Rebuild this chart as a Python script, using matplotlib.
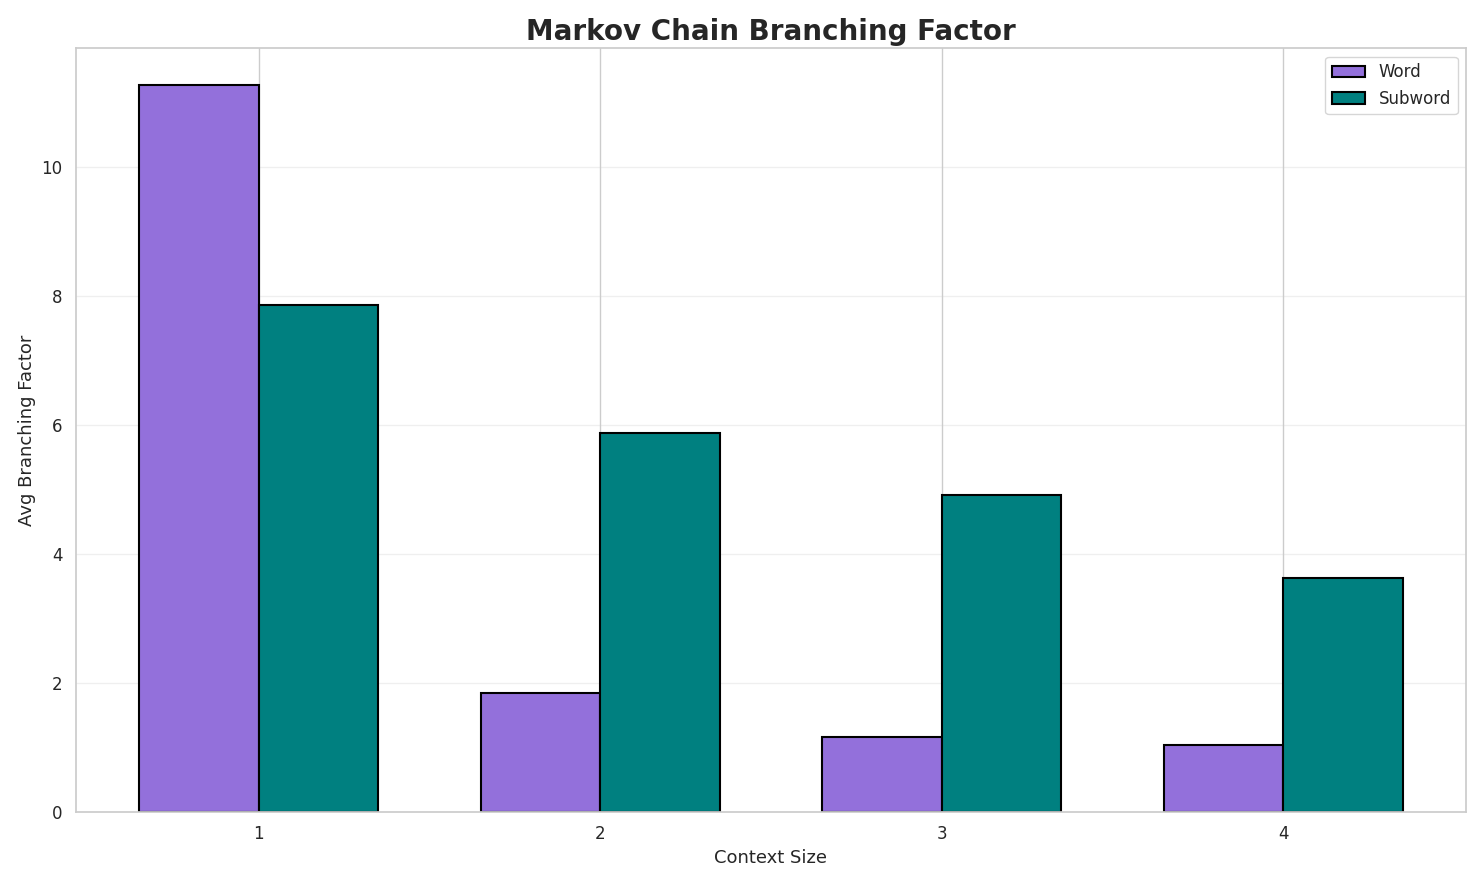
import matplotlib
matplotlib.use("Agg")
import matplotlib.pyplot as plt
import seaborn as sns
import numpy as np

sns.set_theme(style="whitegrid")

contexts = [1, 2, 3, 4]
word = [11.27, 1.84, 1.16, 1.04]
subword = [7.85, 5.87, 4.92, 3.63]

fig, ax = plt.subplots(figsize=(14.84, 8.85), dpi=100)
x = np.arange(len(contexts))
w = 0.35
ax.bar(x - w/2, word, w, label="Word", color="#9370DB", edgecolor="black", linewidth=1.5)
ax.bar(x + w/2, subword, w, label="Subword", color="#008080", edgecolor="black", linewidth=1.5)
ax.set_xticks(x)
ax.set_xticklabels([str(c) for c in contexts], fontsize=12)
ax.tick_params(axis="y", labelsize=12)
ax.set_xlabel("Context Size", fontsize=13)
ax.set_ylabel("Avg Branching Factor", fontsize=13)
ax.set_title("Markov Chain Branching Factor", fontsize=20, fontweight="bold")
ax.grid(axis="y", alpha=0.3)
ax.legend(fontsize=12, loc="upper right")
plt.tight_layout()
plt.savefig("out.png", dpi=100)
